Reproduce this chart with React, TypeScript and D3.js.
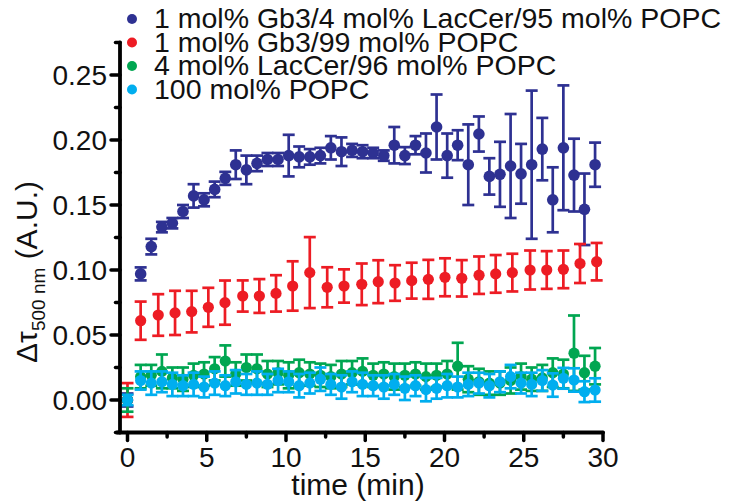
import React from "react";
import * as d3 from "d3";

const timesFine = [0, 0.83, 1.5, 2.17, 2.83, 3.5, 4.17, 4.83, 5.5, 6.17, 6.83, 7.5, 8.17, 8.83, 9.5, 10.17, 10.83, 11.5, 12.17, 12.83, 13.5, 14.17, 14.83, 15.5, 16.17, 16.83, 17.5, 18.17, 18.83, 19.5, 20.17, 20.83, 21.5, 22.17, 22.83, 23.5, 24.17, 24.83, 25.5, 26.17, 26.83, 27.5, 28.17, 28.83, 29.5];
const timesRed = [0, 0.83, 1.94, 3.0, 4.05, 5.1, 6.15, 7.27, 8.32, 9.37, 10.42, 11.5, 12.6, 13.66, 14.78, 15.82, 16.88, 17.93, 18.98, 20.03, 21.09, 22.18, 23.23, 24.28, 25.4, 26.45, 27.5, 28.55, 29.6];

const blueVals = [0, 0.097, 0.118, 0.133, 0.136, 0.145, 0.157, 0.154, 0.162, 0.1705, 0.181, 0.177, 0.182, 0.185, 0.185, 0.188, 0.187, 0.187, 0.188, 0.194, 0.191, 0.192, 0.191, 0.19, 0.188, 0.196, 0.188, 0.196, 0.19, 0.21, 0.188, 0.196, 0.181, 0.2046, 0.172, 0.1736, 0.18, 0.174, 0.181, 0.193, 0.154, 0.194, 0.173, 0.1467, 0.181];
const blueErr = [0.005, 0.005, 0.006, 0.004, 0.004, 0.005, 0.009, 0.005, 0.006, 0.005, 0.011, 0.011, 0.006, 0.005, 0.005, 0.016, 0.008, 0.006, 0.006, 0.009, 0.011, 0.005, 0.005, 0.004, 0.004, 0.014, 0.0065, 0.007, 0.015, 0.025, 0.017, 0.0115, 0.031, 0.0135, 0.014, 0.025, 0.04, 0.023, 0.057, 0.024, 0.025, 0.048, 0.028, 0.0275, 0.017];

const redVals = [0, 0.061, 0.0654, 0.067, 0.068, 0.0713, 0.0749, 0.08, 0.08, 0.082, 0.0877, 0.098, 0.0867, 0.0877, 0.089, 0.091, 0.09, 0.0918, 0.0928, 0.0944, 0.0936, 0.096, 0.097, 0.098, 0.1, 0.1, 0.1005, 0.105, 0.1064];
const redErr = [0.013, 0.0147, 0.016, 0.017, 0.016, 0.015, 0.017, 0.012, 0.013, 0.014, 0.019, 0.0273, 0.0154, 0.0128, 0.016, 0.0165, 0.0137, 0.0138, 0.015, 0.0146, 0.014, 0.0144, 0.0145, 0.0145, 0.015, 0.0145, 0.0145, 0.015, 0.0144];

const greenVals = [0, 0.018, 0.019, 0.022, 0.017, 0.016, 0.019, 0.02, 0.024, 0.03, 0.02, 0.025, 0.024, 0.02, 0.021, 0.019, 0.021, 0.02, 0.019, 0.018, 0.02, 0.021, 0.022, 0.019, 0.02, 0.018, 0.019, 0.02, 0.018, 0.019, 0.02, 0.026, 0.016, 0.014, 0.013, 0.013, 0.015, 0.018, 0.016, 0.017, 0.021, 0.02, 0.036, 0.021, 0.026];
const greenErr = [0.009, 0.009, 0.008, 0.013, 0.008, 0.009, 0.009, 0.009, 0.009, 0.012, 0.009, 0.01, 0.011, 0.01, 0.009, 0.01, 0.01, 0.009, 0.009, 0.009, 0.01, 0.009, 0.01, 0.009, 0.009, 0.01, 0.009, 0.009, 0.01, 0.009, 0.01, 0.018, 0.01, 0.01, 0.009, 0.009, 0.01, 0.01, 0.009, 0.01, 0.011, 0.011, 0.029, 0.013, 0.014];

const cyanVals = [0, 0.015, 0.013, 0.014, 0.012, 0.011, 0.012, 0.01, 0.013, 0.011, 0.014, 0.012, 0.013, 0.012, 0.015, 0.014, 0.011, 0.013, 0.016, 0.012, 0.01, 0.014, 0.012, 0.011, 0.01, 0.012, 0.009, 0.011, 0.008, 0.009, 0.011, 0.01, 0.012, 0.013, 0.011, 0.014, 0.018, 0.013, 0.012, 0.015, 0.0115, 0.0167, 0.0154, 0.0064, 0.0077];
const cyanErr = [0.004, 0.007, 0.009, 0.008, 0.009, 0.008, 0.009, 0.008, 0.009, 0.008, 0.009, 0.008, 0.009, 0.008, 0.009, 0.008, 0.009, 0.008, 0.009, 0.008, 0.009, 0.008, 0.009, 0.008, 0.009, 0.008, 0.009, 0.008, 0.009, 0.008, 0.009, 0.008, 0.009, 0.008, 0.009, 0.008, 0.009, 0.008, 0.009, 0.008, 0.009, 0.008, 0.009, 0.008, 0.009];

const legendLabels = [
  "1 mol% Gb3/4 mol% LacCer/95 mol% POPC",
  "1 mol% Gb3/99 mol% POPC",
  "4 mol% LacCer/96 mol% POPC",
  "100 mol% POPC",
];
const colors = ["#2E3192", "#ED1C24", "#00A651", "#00AEEF"];

const xTicks = [0, 5, 10, 15, 20, 25, 30];
const xMinor = [2.5, 7.5, 12.5, 17.5, 22.5, 27.5];
const yTicks = [0, 0.05, 0.1, 0.15, 0.2, 0.25];
const yMinor = [-0.025, 0.025, 0.075, 0.125, 0.175, 0.225, 0.275];

const FONT = "'Liberation Sans', Arial, sans-serif";

export default function App() {
  const x = d3.scaleLinear().domain([0, 30]).range([127.5, 603]);
  const y = d3.scaleLinear().domain([0, 0.25]).range([400, 75]);
  const axX = 120;
  const axY = y(-0.025);

  const series = [
    { t: timesFine, v: blueVals, e: blueErr, c: colors[0], r: 5.8 },
    { t: timesRed, v: redVals, e: redErr, c: colors[1], r: 5.6 },
    { t: timesFine, v: greenVals, e: greenErr, c: colors[2], r: 5.6 },
    { t: timesFine, v: cyanVals, e: cyanErr, c: colors[3], r: 5.6 },
  ];
  const cap = 6;
  const sw = 2.7;

  return (
    <svg width={739} height={502} style={{ position: "absolute", left: 0, top: 0, background: "#fff" }} fontFamily={FONT}>
      {series.map((s, si) => (
        <g key={si}>
          {s.t.map((t, i) => {
            const cx = x(t);
            const y1 = y(s.v[i] + s.e[i]);
            const y2 = y(s.v[i] - s.e[i]);
            return (
              <g key={i} stroke={s.c} strokeWidth={sw}>
                <line x1={cx} x2={cx} y1={y1} y2={y2} />
                <line x1={cx - cap} x2={cx + cap} y1={y1} y2={y1} />
                <line x1={cx - cap} x2={cx + cap} y1={y2} y2={y2} />
                <circle cx={cx} cy={y(s.v[i])} r={s.r} fill={s.c} stroke="none" />
              </g>
            );
          })}
        </g>
      ))}

      {/* axes */}
      <g stroke="#000" strokeLinecap="round">
        <line x1={axX} x2={axX} y1={y(0.275)} y2={axY} strokeWidth={3.8} />
        <line x1={axX - 3} x2={x(30)} y1={axY} y2={axY} strokeWidth={3.8} />
        {yTicks.map((v) => (
          <line key={"yt" + v} x1={axX - 9} x2={axX} y1={y(v)} y2={y(v)} strokeWidth={3.5} />
        ))}
        {yMinor.map((v) => (
          <line key={"ym" + v} x1={axX - 4.5} x2={axX} y1={y(v)} y2={y(v)} strokeWidth={3.5} />
        ))}
        {xTicks.map((v) => (
          <line key={"xt" + v} x1={x(v)} x2={x(v)} y1={axY} y2={axY + 8} strokeWidth={3.5} />
        ))}
        {xMinor.map((v) => (
          <line key={"xm" + v} x1={x(v)} x2={x(v)} y1={axY} y2={axY + 4.5} strokeWidth={3.5} />
        ))}
      </g>

      {yTicks.map((v) => (
        <text key={"yl" + v} x={107} y={y(v) + 10} fontSize={28} textAnchor="end" fill="#111">
          {v.toFixed(2)}
        </text>
      ))}
      {xTicks.map((v) => (
        <text key={"xl" + v} x={x(v)} y={467} fontSize={28} textAnchor="middle" fill="#111">
          {v}
        </text>
      ))}
      <text x={358} y={495} fontSize={30} textAnchor="middle" fill="#111">time (min)</text>

      <text transform="translate(37,272) rotate(-90)" fontSize={30} textAnchor="middle" fill="#111">
        <tspan>Δτ</tspan>
        <tspan fontSize={19} dy={8}>500 nm</tspan>
        <tspan dy={-8}> (A.U.)</tspan>
      </text>

      {legendLabels.map((l, i) => (
        <g key={l}>
          <circle cx={132} cy={28 + i * 23.5 - 9} r={5} fill={colors[i]} />
          <text x={154} y={28 + i * 23.5} fontSize={28.5} fill="#111">{l}</text>
        </g>
      ))}
    </svg>
  );
}
